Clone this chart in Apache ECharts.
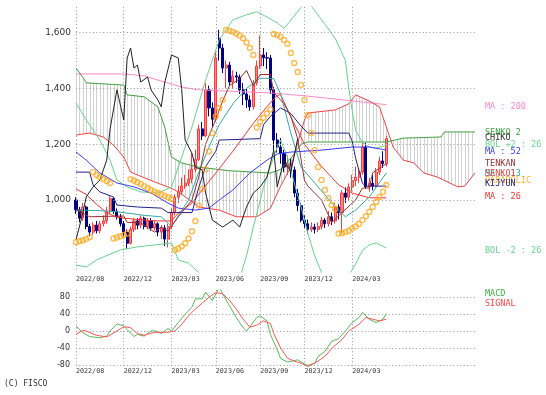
<!DOCTYPE html>
<html><head><meta charset="utf-8">
<script src="https://cdn.jsdelivr.net/npm/echarts@6/dist/echarts.min.js"></script>
<style>html,body{margin:0;padding:0;background:#fff}#c{width:546px;height:395px}</style>
</head><body><div id="c"></div>
<script>
const N = 118;
const tickIdx = [0,14,28,41,54,67,81];
const tickLabels = ['2022/08','2022/12','2023/03','2023/06','2023/09','2023/12','2024/03'];
const priceTicks = [1000,1200,1400,1600];
const macdTicks = [-80,-40,0,40,80];

// weekly candles: [open, close, low, high]
const candles = [
[1000,965,950,1010],[965,935,920,975],[935,975,925,990],[975,905,895,980],[905,885,870,915],
[885,910,875,920],[910,890,880,925],[890,915,880,925],[915,925,905,945],[925,960,915,975],
[960,1005,950,1015],[1005,960,950,1010],[960,940,930,970],[940,915,905,950],[915,885,870,925],
[885,845,825,895],[845,895,840,905],[895,925,885,935],[925,910,895,935],[910,935,900,945],
[935,905,895,940],[905,925,895,935],[925,900,890,935],[900,915,890,925],[915,885,870,920],
[885,900,860,910],[900,860,835,910],[860,905,830,915],[905,955,895,970],[955,1010,945,1020],
[1010,1030,990,1050],[1030,1050,1020,1080],[1050,1060,1040,1090],[1060,1075,1050,1110],[1075,1110,1060,1170],
[1110,1145,1100,1180],[1145,1255,1140,1270],[1255,1230,1215,1280],[1230,1395,1225,1420],[1395,1330,1300,1410],
[1330,1290,1260,1350],[1290,1510,1280,1530],[1580,1545,1500,1610],[1545,1473,1455,1560],[1473,1484,1400,1500],
[1484,1423,1410,1495],[1423,1445,1400,1465],[1445,1441,1420,1460],[1441,1395,1380,1450],[1395,1380,1340,1420],
[1380,1359,1330,1400],[1359,1334,1320,1375],[1334,1420,1325,1430],[1420,1480,1410,1500],[1480,1520,1470,1590],
[1520,1510,1480,1545],[1510,1509,1470,1530],[1509,1395,1380,1520],[1395,1215,1180,1405],[1215,1190,1170,1240],
[1190,1168,1130,1222],[1168,1118,1100,1180],[1118,1130,1090,1160],[1130,1108,1080,1150],[1108,1025,1010,1120],
[1025,980,960,1040],[980,928,920,990],[928,915,900,945],[915,895,880,930],[895,903,885,920],
[903,895,880,915],[895,905,885,920],[905,928,895,940],[928,915,900,935],[915,940,905,960],
[940,925,910,955],[925,975,915,990],[975,955,930,985],[955,1025,880,1035],[1025,1010,990,1045],
[1010,1047,1000,1060],[1047,1070,1030,1090],[1070,1082,1050,1120],[1082,1100,1060,1115],[1100,1190,1090,1205],
[1190,1047,1040,1205],[1047,1060,1030,1080],[1060,1050,1035,1090],[1050,1100,1045,1115],[1100,1140,1090,1155],
[1140,1130,1115,1175],[1130,1220,1120,1230]
];

// parabolic SAR per week
const sar = [
849,852,856,860,867,1100,1090,1082,1075,1068,1061,862,866,870,875,880,
1075,1070,1064,1058,1050,1043,1036,1030,1025,1020,1015,1010,1005,
821,826,834,845,862,888,925,980,1040,1110,1175,1240,1300,1330,1359,
1610,1607,1603,1597,1590,1580,1565,1545,1520,
1260,1280,1295,1310,1325,
1595,1592,1585,1574,1560,1527,1491,1459,1413,1359,1305,1240,1179,1118,1072,1036,1007,982,968,
880,882,885,890,898,905,915,928,942,958,975,993,1011,1030,1054
];

// lines: [weekIndex, value]
const ma200 = [[0,1452],[14,1452],[20,1445],[26,1423],[31,1405],[36,1395],[45,1390],[57,1384],[66,1375],[76,1362],[91,1342]];
const ma52 = [[0,1172],[3,1143],[7,1097],[12,1061],[17,1047],[22,1025],[27,989],[30,971],[35,964],[39,971],[42,1000],[46,1036],[51,1097],[56,1143],[59,1165],[63,1172],[72,1179],[81,1190],[86,1190],[91,1179]];
const ma26 = [[0,1040],[3,1020],[6,985],[9,955],[12,938],[18,930],[24,925],[28,925],[30,953],[34,989],[37,1036],[41,1097],[46,1175],[52,1275],[56,1335],[59,1375],[60,1378],[63,1298],[67,1200],[72,1120],[77,1055],[81,1025],[86,1008],[91,1008]];
const ma13 = [[0,964],[7,962],[12,958],[20,945],[25,940],[28,905],[33,1000],[36,1100],[39,1190],[42,1270],[46,1345],[50,1400],[54,1437],[58,1435],[60,1380],[63,1240],[66,1118],[71,1047],[76,975],[79,940],[82,964],[86,1011],[91,1097]];
const bolUp = [[0,1348],[3,1287],[7,1215],[10,1143],[12,1072],[15,1047],[19,1029],[24,1025],[28,1047],[30,1118],[34,1262],[38,1430],[42,1574],[46,1646],[50,1664],[53,1675],[56,1656],[59,1635],[61,1615],[64,1660],[67,1705],[69,1695],[73,1630],[76,1580],[79,1500],[80,1400],[81,1320],[82,1250],[84,1205],[86,1190],[88,1186],[91,1197]];
const bolDn = [[0,767],[3,760],[6,785],[8,796],[13,821],[18,832],[23,839],[28,846],[30,785],[33,774],[36,740],[40,680],[44,660],[48,720],[50,800],[52,903],[55,1047],[57,1120],[59,1190],[60,1215],[62,1154],[64,1061],[66,975],[68,880],[70,800],[72,740],[76,690],[80,730],[82,770],[83,796],[84,820],[86,839],[88,846],[91,828]];
const tenkan = [[0,965],[4,940],[14,943],[15,920],[19,918],[23,885],[25,903],[27,888],[30,940],[34,1000],[36,1083],[38,1200],[41,1290],[43,1355],[45,1410],[48,1435],[50,1465],[52,1410],[54,1450],[57,1450],[58,1385],[61,1345],[63,1300],[65,1220],[67,1070],[68,1050],[72,1000],[75,920],[78,955],[82,1000],[84,1043],[86,1043],[87,1098],[91,1130]];
const kijun = [[0,1100],[4,1100],[5,1054],[7,1029],[11,1011],[12,982],[18,975],[25,971],[27,955],[34,955],[35,1000],[36,1045],[38,1120],[41,1175],[42,1215],[54,1220],[55,1270],[57,1300],[60,1330],[63,1310],[66,1265],[68,1240],[80,1240],[81,1210],[82,1150],[84,1060],[85,1050],[91,1050]];
const senkou1 = [[0,1233],[4,1240],[8,1226],[11,1197],[14,1154],[16,1100],[18,1090],[23,1065],[27,1047],[30,1030],[36,975],[42,964],[47,940],[53,940],[57,970],[60,1050],[63,1118],[65,1204],[67,1287],[68,1312],[76,1323],[80,1345],[82,1377],[86,1355],[89,1334],[91,1262],[93,1190],[96,1143],[99,1133],[102,1097],[106,1082],[112,1047],[114,1050],[117,1097]];
const senkou2 = [[0,1474],[2,1440],[3,1420],[14,1412],[15,1377],[20,1370],[24,1334],[26,1262],[28,1154],[31,1133],[36,1118],[45,1105],[57,1097],[60,1110],[63,1150],[66,1200],[68,1208],[91,1208],[96,1222],[107,1226],[108,1244],[117,1244]];
const chikou = [[0,857],[2,953],[3,1011],[5,1047],[7,1072],[9,1143],[10,1255],[12,1395],[14,1287],[15,1509],[16,1545],[17,1473],[18,1484],[19,1423],[21,1441],[22,1395],[24,1359],[25,1334],[26,1420],[28,1520],[30,1509],[31,1395],[32,1215],[34,1168],[35,1118],[37,1108],[38,1025],[40,928],[43,903],[46,928],[48,903],[50,975],[52,1025],[54,1047],[56,1082],[58,1179],[59,1047],[61,1143],[63,1100],[65,1220]];
const macd = [[0,12],[2,-4],[4,-13],[7,-16],[9,-12],[10,0],[12,17],[14,12],[15,4],[17,-13],[18,-8],[20,-12],[22,0],[23,1],[25,-6],[27,6],[28,0],[30,20],[32,40],[34,56],[35,76],[37,76],[38,92],[40,72],[42,104],[43,88],[45,60],[47,32],[49,8],[50,0],[53,32],[54,36],[56,24],[57,-8],[59,-44],[60,-65],[62,-73],[64,-70],[65,-68],[67,-78],[68,-81],[70,-76],[71,-60],[73,-48],[75,-24],[77,-18],[79,0],[81,20],[83,32],[84,44],[86,28],[88,20],[89,24],[90,28],[91,41]];
const signal = [[0,-8],[2,2],[3,0],[6,-10],[9,-14],[12,0],[14,10],[16,8],[18,-6],[20,-10],[23,-3],[27,-3],[29,0],[31,16],[33,36],[35,52],[37,66],[39,80],[41,91],[43,88],[45,73],[47,52],[49,28],[51,9],[53,14],[55,24],[57,18],[58,-6],[60,-40],[62,-64],[64,-71],[66,-76],[68,-84],[70,-76],[73,-60],[75,-41],[78,-20],[80,0],[83,16],[85,32],[87,28],[89,24],[91,28]];

const legendItems = [
 ['MA : 200','#ff88c8',107],['SENKO 2','#40a040',133],['CHIKO','#333333',138],['BOL +2 : 26','#66d38d',145],
 ['MA : 52','#3a3aff',152],['TENKAN','#993333',164],['MA : 13','#33aaaa',174],['SENKO1','#ee4444',174],
 ['PARABOLIC','#ffb030',181],['KIJYUN','#222288',184],['MA : 26','#ff3333',197],['BOL -2 : 26','#66d38d',251],
 ['MACD','#44aa44',294],['SIGNAL','#ff4444',304]
];

const categories = Array.from({length:N}, (_, i) => 'w' + i);
const isTick = (i) => tickIdx.indexOf(i) >= 0;

const gridLine = {color:'#999', type:[1,2.4], width:1};

function xAxis(gridIndex, margin) {
  return {type:'category', gridIndex, data:categories, boundaryGap:false,
    axisLine:{show:false}, axisTick:{show:false},
    axisLabel:{interval:(i)=>isTick(i), formatter:(v,i)=>{const k=tickIdx.indexOf(i); return k>=0?tickLabels[k]:'';},
      align:'left', margin, color:'#333', fontFamily:'DejaVu Sans Mono', fontSize:6.7},
    splitLine:{show:true, interval:(i)=>isTick(i), lineStyle:gridLine}};
}
function line(data, color, xi, yi, z) {
  return {type:'line', data, xAxisIndex:xi||0, yAxisIndex:yi||0, symbol:'none', silent:true,
    lineStyle:{color, width:1}, itemStyle:{color}, z:z||3, animation:false};
}

const chart = echarts.init(document.getElementById('c'), null, {renderer:'canvas'});
chart.setOption({
  animation:false,
  backgroundColor:'#fff',
  grid:[{left:76, right:71, top:7, height:265}, {left:76, right:71, top:290, height:77}],
  xAxis:[xAxis(0,4), xAxis(1,1)],
  yAxis:[
    {type:'value', gridIndex:0, min:742, max:1692, axisLine:{show:false}, axisTick:{show:false}, splitLine:{show:false},
     axisLabel:{customValues:priceTicks, formatter:(v)=>v.toLocaleString('en-US'), color:'#333', fontFamily:'DejaVu Sans', fontSize:9, margin:5}},
    {type:'value', gridIndex:1, min:-85, max:97, axisLine:{show:false}, axisTick:{show:false}, splitLine:{show:false},
     axisLabel:{customValues:macdTicks, color:'#333', fontFamily:'DejaVu Sans', fontSize:8, margin:6}}
  ],
  graphic:[
    ...legendItems.map(([t,c,y]) => ({type:'text', x:485, y:y, silent:true,
      style:{text:t, fill:c, font:'8.5px "DejaVu Sans Mono"', verticalAlign:'middle'}})),
    {type:'text', x:4, y:384, style:{text:'(C) FISCO', fill:'#333', font:'8px "DejaVu Sans Mono"', verticalAlign:'middle'}}
  ],
  series:[
    {type:'custom', xAxisIndex:0, yAxisIndex:0, data:[[0,1000]], z:1, silent:true,
     renderItem:(params, api) => {
       const pts = senkou1.map(p => api.coord(p)).concat(senkou2.slice().reverse().map(p => api.coord(p)));
       const cs = params.coordSys;
       const children = [];
       for (let k = 0; k < N; k++) {
         const x = Math.round(api.coord([k, 1000])[0]) + 0.5;
         children.push({type:'line', shape:{x1:x, y1:cs.y, x2:x, y2:cs.y + cs.height}, style:{stroke:'#d2d2d2', lineWidth:1}});
       }
       return {type:'group', clipPath:{type:'polygon', shape:{points:pts}}, children};
     }},
    Object.assign(line(ma200,'#ff88c8'), {markLine:{silent:true, symbol:['none','none'], label:{show:false}, lineStyle:gridLine,
      data:priceTicks.map(v=>({yAxis:v}))}}),
    {type:'candlestick', data:candles, xAxisIndex:0, yAxisIndex:0, barWidth:2.6, z:2, silent:true,
     itemStyle:{color:'#ff8a8a', color0:'#000080', borderColor:'#ff3a3a', borderColor0:'#000080', borderWidth:1}},
    line(senkou2,'#40a040'),
    line(senkou1,'#ee4444'),
    line(bolUp,'#66d38d'),
    line(bolDn,'#66d38d'),
    line(ma52,'#3a3aff'),
    line(ma26,'#ff3333'),
    line(ma13,'#33aaaa'),
    line(kijun,'#222288'),
    line(tenkan,'#993333'),
    line(chikou,'#222222'),
    {type:'scatter', data:sar.map((v,i)=>[i,v]), xAxisIndex:0, yAxisIndex:0, symbol:'circle', symbolSize:5, z:5, silent:true,
     itemStyle:{color:'rgba(255,255,255,0)', borderColor:'#ffaa22', borderWidth:1.4}},
    Object.assign(line(macd,'#55bb55',1,1), {markLine:{silent:true, symbol:['none','none'], label:{show:false}, lineStyle:gridLine,
      data:macdTicks.map(v=>({yAxis:v}))}}),
    line(signal,'#ff5555',1,1)
  ]
});
</script></body></html>
